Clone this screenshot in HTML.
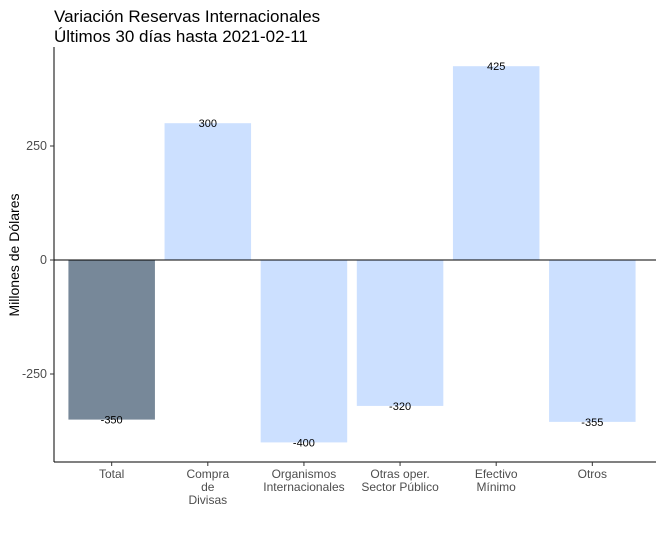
<!DOCTYPE html>
<html><head><meta charset="utf-8"><style>
body{margin:0;background:#fff;}
svg text{font-family:"Liberation Sans",Arial,sans-serif;}
</style></head><body>
<svg id="chart" width="660" height="528" xmlns="http://www.w3.org/2000/svg">
<text x="54" y="22" font-size="17" fill="#000">Variación Reservas Internacionales</text>
<text x="54" y="42" font-size="17" fill="#000">Últimos 30 días hasta 2021-02-11</text>
<text transform="translate(19,255) rotate(-90)" text-anchor="middle" font-size="14" fill="#000">Millones de Dólares</text>
<g id="bars"></g>
<g id="axes"></g>
</svg>
<script>
const categories=[["Total"],["Compra","de","Divisas"],["Organismos","Internacionales"],["Otras oper.","Sector Público"],["Efectivo","Mínimo"],["Otros"]];
const values=[-350,300,-400,-320,425,-355];
const yTicks=[-250,0,250];
const ns="http://www.w3.org/2000/svg";
const L=54,R=650,T=47,B=462;
const y0=260,k=114/250;
function y(v){return y0-v*k;}
const step=(R-L)/(categories.length-1+1.2);
function x(i){return L+(0.6+i)*step;}
const bw=0.9*step;
const bars=document.getElementById('bars'),axes=document.getElementById('axes');
function mk(tag,attrs,parent){const e=document.createElementNS(ns,tag);for(const a in attrs)e.setAttribute(a,attrs[a]);parent.appendChild(e);return e;}
values.forEach((v,i)=>{
 const r=mk('rect',{x:x(i)-bw/2,y:Math.min(y(v),y0),width:bw,height:Math.abs(y(v)-y0),fill:i===0?'#778899':'#cce0ff'},bars);
 
 
 const t=mk('text',{x:x(i),y:y(v)+4,'text-anchor':'middle','font-size':'11',fill:'#000'},bars);
 t.textContent=v;
 
 
});
const z=mk('line',{x1:L,x2:656,y1:y0,y2:y0,stroke:'#000','stroke-width':1},axes);


const ya=mk('line',{x1:L,x2:L,y1:T,y2:B,stroke:'#000','stroke-width':1},axes);


const xa=mk('line',{x1:L,x2:656,y1:B,y2:B,stroke:'#000','stroke-width':1},axes);


yTicks.forEach(v=>{
 mk('line',{x1:L-4,x2:L,y1:y(v),y2:y(v),stroke:'#333'},axes);
 const t=mk('text',{x:L-7,y:y(v)+4,'text-anchor':'end','font-size':'12.5',fill:'#4d4d4d'},axes);
 t.textContent=v;
 
 
});
categories.forEach((c,i)=>{
 mk('line',{x1:x(i),x2:x(i),y1:B,y2:B+4,stroke:'#333'},axes);
 c.forEach((s,j)=>{
  const t=mk('text',{x:x(i),y:B+16+j*13,'text-anchor':'middle','font-size':'12',fill:'#4d4d4d'},axes);
  t.textContent=s;
  
  
 });
});
</script>
</body></html>
